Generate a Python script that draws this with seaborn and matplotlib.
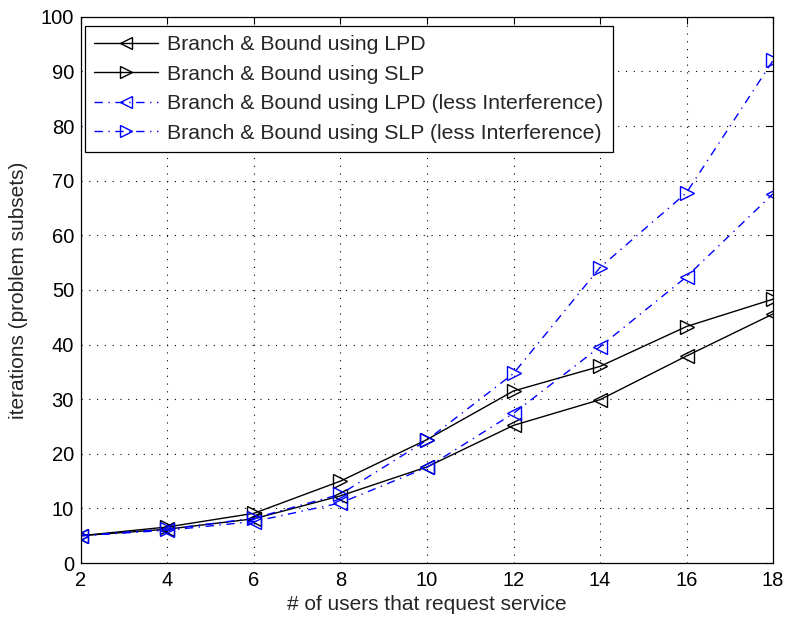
import matplotlib
matplotlib.use("Agg")
import matplotlib.pyplot as plt
import seaborn as sns
import pandas as pd

users = [2, 4, 6, 8, 10, 12, 14, 16, 18]
lpd = [5, 6.2, 8.1, 12.3, 17.6, 25.2, 29.9, 37.9, 45.6]
slp = [5, 6.6, 9.1, 15.0, 22.6, 31.5, 36.0, 43.3, 48.3]
lpd_less = [5, 6.0, 7.6, 11.0, 17.5, 27.4, 39.6, 52.4, 67.6]
slp_less = [5, 6.2, 8.2, 12.6, 22.5, 34.7, 54.1, 67.8, 92.0]

labels = [
    "Branch & Bound using LPD",
    "Branch & Bound using SLP",
    "Branch & Bound using LPD (less Interference)",
    "Branch & Bound using SLP (less Interference)",
]
x_ticks = [2, 4, 6, 8, 10, 12, 14, 16, 18]
y_ticks = [0, 10, 20, 30, 40, 50, 60, 70, 80, 90, 100]

sns.set_style("white")
plt.rcParams["font.family"] = ["Liberation Sans", "DejaVu Sans"]
TICK_FS = 14.5
LABEL_FS = 15
LEGEND_FS = 15.3

fig = plt.figure(figsize=(7.9, 6.2), dpi=100)
ax = fig.add_axes([0.1025, 0.0919, 0.876, 0.881])

series = [
    (lpd, "<", "black", "-"),
    (slp, ">", "black", "-"),
    (lpd_less, "<", "#0000ff", (0, (6, 4, 1, 4))),
    (slp_less, ">", "#0000ff", (0, (6, 4, 1, 4))),
]
for (vals, mk, col, ls), lab in zip(series, labels):
    df = pd.DataFrame({"users": users, "iterations": vals})
    sns.lineplot(data=df, x="users", y="iterations", ax=ax, color=col,
                 linestyle=ls, linewidth=1.0, marker=mk, markersize=10,
                 markerfacecolor="none", markeredgecolor=col,
                 markeredgewidth=1.0, label=lab)

ax.set_xlim(2, 18)
ax.set_ylim(0, 100)
ax.set_xticks(x_ticks)
ax.set_yticks(y_ticks)
ax.grid(True, color="black", linestyle=(0, (1, 6)), linewidth=0.8)
ax.tick_params(direction="in", length=5, width=0.8, top=True, right=True,
               labelsize=TICK_FS, colors="black")
ax.tick_params(axis="x", pad=6)
ax.tick_params(axis="y", pad=5)
for sp in ax.spines.values():
    sp.set_color("black")
    sp.set_linewidth(0.9)
ax.set_xlabel("# of users that request service", fontsize=LABEL_FS, labelpad=3)
ax.set_ylabel("iterations (problem subsets)", fontsize=LABEL_FS, labelpad=9)

leg = ax.legend(loc="upper left", bbox_to_anchor=(0.006, 0.983), fancybox=False,
                edgecolor="black", framealpha=1, fontsize=LEGEND_FS,
                handlelength=3.0, handletextpad=0.45, labelspacing=0.5,
                borderpad=0.42, borderaxespad=0, numpoints=1, markerscale=0.9)
leg.get_frame().set_linewidth(0.9)

fig.savefig("out.png", dpi=100)
